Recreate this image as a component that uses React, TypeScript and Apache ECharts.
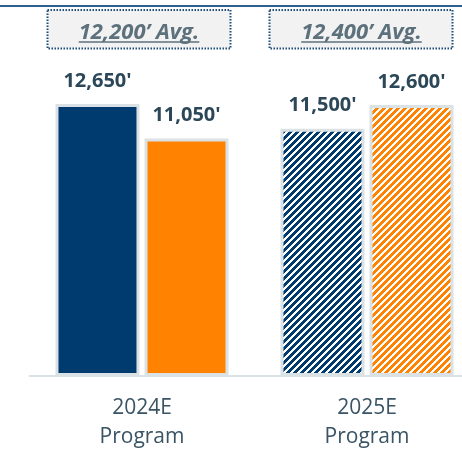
import React, { useEffect, useRef } from "react";
import * as echarts from "echarts";

const categories = ["2024E\nProgram", "2025E\nProgram"];
const seriesNavy = [12650, 11500];
const seriesOrange = [11050, 12600];
const hatchedFlags = [false, true];
const avgLabels = ["12,200\u2019 Avg.", "12,400\u2019 Avg."];

const NAVY = "#003b6f";
const ORANGE = "#ff8300";
const BORDER = "#dbe2e6";
const VALUE_COLOR = "#2b4758";
const CAT_COLOR = "#3a5464";
const AVG_COLOR = "#5d717c";
const FONT = "'Open Sans', 'Noto Sans', sans-serif";

function makeHatch(color: string) {
  const size = 7;
  const c = document.createElement("canvas");
  c.width = size;
  c.height = size;
  const ctx = c.getContext("2d")!;
  ctx.fillStyle = "#ffffff";
  ctx.fillRect(0, 0, size, size);
  ctx.fillStyle = color;
  for (let y = 0; y < size; y++) {
    for (let x = 0; x < size; x++) {
      if ((x + y) % size < 4) ctx.fillRect(x, y, 1, 1);
    }
  }
  return { image: c.toDataURL(), repeat: "repeat" as const };
}

function measure(text: string, font: string) {
  const c = document.createElement("canvas");
  const ctx = c.getContext("2d")!;
  ctx.font = font;
  return ctx.measureText(text).width;
}

export default function App() {
  const ref = useRef<HTMLDivElement>(null);
  useEffect(() => {
    if (!ref.current) return;
    const chart = echarts.init(ref.current, null, { renderer: "svg" });
    const navyHatch = makeHatch(NAVY);
    const orangeHatch = makeHatch(ORANGE);

    const avgFontSize = 22;
    const avgFont = `italic bold ${avgFontSize}px 'Open Sans'`;
    const boxes = [
      { x: 47.5, cx: 139 },
      { x: 269.5, cx: 361.5 },
    ];
    const graphics: any[] = [
      {
        type: "line",
        shape: { x1: 0, y1: 6, x2: 480, y2: 6 },
        style: { stroke: "#2f5f8f", lineWidth: 2 },
        silent: true,
      },
    ];
    boxes.forEach((b, i) => {
      const w = measure(avgLabels[i], avgFont);
      graphics.push({
        type: "rect",
        shape: { x: b.x, y: 10, width: 183, height: 38.5 },
        style: { fill: "#f2f2f2", stroke: "#1f4e79", lineWidth: 2, lineDash: [1.5, 1.5] },
        silent: true,
      });
      graphics.push({
        type: "text",
        x: b.cx,
        y: 30,
        style: {
          text: avgLabels[i],
          fill: AVG_COLOR,
          font: `italic bold ${avgFontSize}px ${FONT}`,
          align: "center",
          verticalAlign: "middle",
        },
        silent: true,
      });
      graphics.push({
        type: "line",
        shape: { x1: b.cx - w / 2, y1: 42, x2: b.cx + w / 2, y2: 42 },
        style: { stroke: AVG_COLOR, lineWidth: 1.5 },
        silent: true,
      });
    });

    const labelCfg = {
      show: true,
      position: "top" as const,
      distance: 15,
      color: VALUE_COLOR,
      fontFamily: FONT,
      fontWeight: "bold" as const,
      fontSize: 20,
      formatter: (p: any) => p.value.toLocaleString("en-US") + "'",
    };

    chart.setOption({
      animation: false,
      grid: { left: 29.5, right: 0.5, top: 75, bottom: 72 },
      xAxis: {
        type: "category",
        data: categories,
        axisLine: { show: true, lineStyle: { color: BORDER, width: 2 } },
        axisTick: { show: false },
        axisLabel: {
          color: CAT_COLOR,
          fontFamily: FONT,
          fontSize: 21,
          lineHeight: 29,
          margin: 15,
        },
      },
      yAxis: { type: "value", min: 0, max: 14000, show: false, splitLine: { show: false } },
      graphic: graphics,
      series: [
        {
          type: "bar",
          barWidth: 84,
          barGap: "6%",
          data: seriesNavy.map((v, i) => ({
            value: v,
            itemStyle: { color: hatchedFlags[i] ? navyHatch : NAVY },
          })),
          itemStyle: { borderColor: BORDER, borderWidth: 3 },
          label: labelCfg,
        },
        {
          type: "bar",
          barWidth: 84,
          barGap: "6%",
          data: seriesOrange.map((v, i) => ({
            value: v,
            itemStyle: { color: hatchedFlags[i] ? orangeHatch : ORANGE },
          })),
          itemStyle: { borderColor: BORDER, borderWidth: 3 },
          label: labelCfg,
        },
      ],
    });
    return () => chart.dispose();
  }, []);
  return (
    <div
      style={{
        position: "fixed",
        left: 0,
        top: 0,
        width: 462,
        height: 449,
        overflow: "hidden",
      }}
    >
      <div ref={ref} style={{ width: 480, height: 449 }} />
    </div>
  );
}
